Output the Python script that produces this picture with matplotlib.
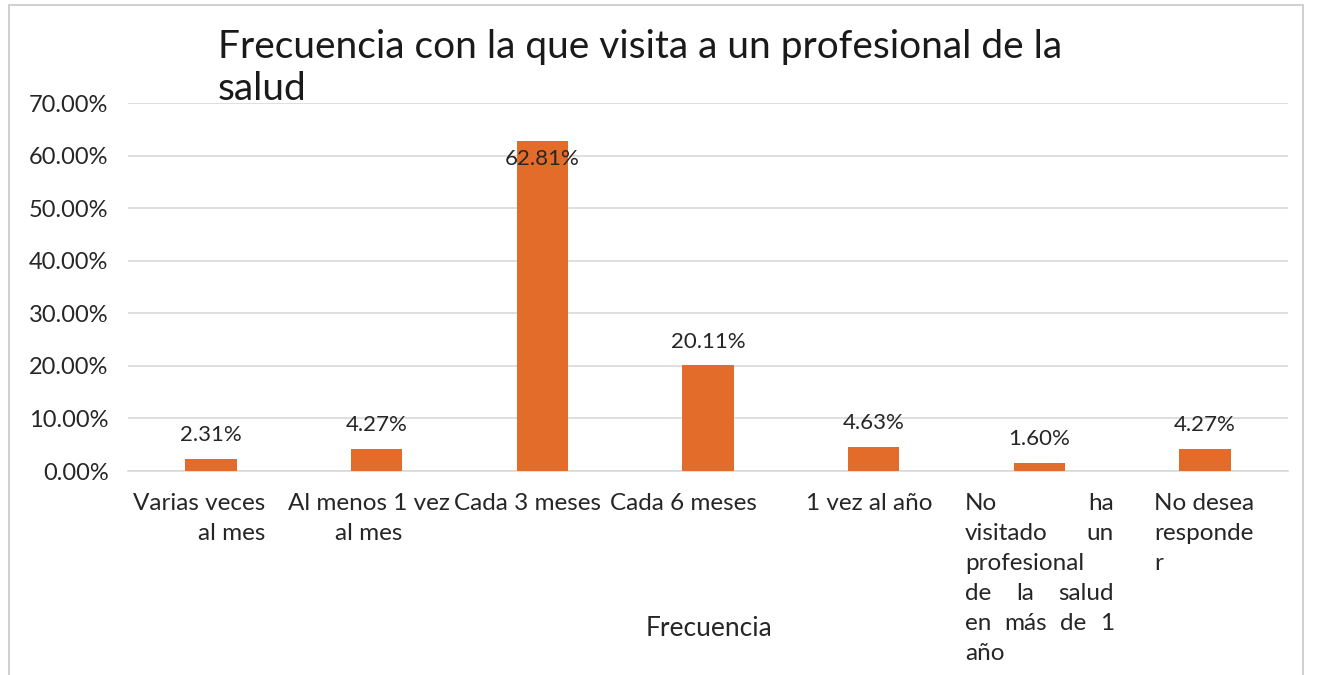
import matplotlib
matplotlib.use("Agg")
import matplotlib.pyplot as plt
from matplotlib.patches import Rectangle
from matplotlib.transforms import ScaledTranslation

categories = [
    ["Varias veces", "al mes"],
    ["Al menos 1 vez", "al mes"],
    ["Cada 3 meses"],
    ["Cada 6 meses"],
    ["1 vez al año"],
    ["No ha", "visitado un", "profesional", "de la salud", "en más de 1", "año"],
    ["No desea", "responde", "r"],
]
values = [2.31, 4.27, 62.81, 20.11, 4.63, 1.60, 4.27]
title = "Frecuencia con la que visita a un profesional de la\nsalud"
xlabel = "Frecuencia"

# styling of the category labels (alignment and horizontal nudge in px)
label_align = ['right', 'center', 'center', 'center', 'center', 'justify', 'left']
label_dx = [-12, -8, -15, -25, -4, 0, -1]
justify_width = 149

plt.rcParams['font.family'] = ['Lato', 'DejaVu Sans']

W, H = 1319, 675
DPI = 100
fig = plt.figure(figsize=(W/DPI, H/DPI), dpi=DPI)
ax = fig.add_axes([128/W, 1-471/H, (1288-128)/W, (471-103)/H])

color = '#E46C2A'
txtc = '#262626'
x = list(range(len(values)))
ax.bar(x, values, width=0.31, color=color, zorder=3)
ax.set_xlim(-0.5, len(values)-0.5)
ax.set_ylim(0, 70)
yt = [0, 10, 20, 30, 40, 50, 60, 70]
ax.set_yticks(yt)
ax.set_yticklabels([f"{v:.2f}%" for v in yt], fontsize=17, color=txtc)
ax.yaxis.grid(True, color='#d9d9d9', linewidth=1.2, zorder=0)
ax.set_axisbelow(True)
for s in ['top', 'right', 'left']:
    ax.spines[s].set_visible(False)
ax.spines['bottom'].set_color('#d9d9d9')
ax.spines['bottom'].set_linewidth(1.2)
ax.tick_params(axis='both', length=0)
ax.tick_params(axis='y', pad=14)
ax.set_xticks(x)
ax.set_xticklabels([])

for xi, v in zip(x, values):
    off = -13 if v > 60 else 17
    ax.annotate(f"{v:.2f}%", (xi, v), xytext=(0, off), textcoords='offset points',
                ha='center', va='center', fontsize=16, color=txtc, zorder=4)

# category labels, line by line
base = ax.get_xaxis_transform()
fs_cat = 17.5
first_dy, line_h = 32, 30
renderer = fig.canvas.get_renderer()
tmp1 = ax.text(0, 0, "a a", fontsize=fs_cat)
tmp2 = ax.text(0, 0, "aa", fontsize=fs_cat)
sp = tmp1.get_window_extent(renderer).width - tmp2.get_window_extent(renderer).width
tmp1.remove()
tmp2.remove()
for i, lines in enumerate(categories):
    texts = []
    for k, line in enumerate(lines):
        words = line.split() if label_align[i] == 'justify' else [line]
        row = []
        for w in words:
            t = ax.text(i, 0, w, ha='left', va='center', fontsize=fs_cat, color=txtc,
                        transform=base, clip_on=False)
            row.append(t)
        texts.append(row)
    widths = [[t.get_window_extent(renderer).width for t in row] for row in texts]
    line_w = [sum(w) + sp*(len(w)-1) for w in widths]
    block_w = justify_width if label_align[i] == 'justify' else max(line_w)
    left = -block_w/2 + label_dx[i]
    for k, row in enumerate(texts):
        dy = -(first_dy + k*line_h)
        ws = widths[k]
        al = label_align[i]
        if al == 'justify' and len(row) > 1 and k < len(texts)-1:
            gap = (block_w - sum(ws)) / (len(row)-1)
        else:
            gap = sp
        if al == 'right':
            cur = left + block_w - line_w[k]
        elif al == 'center':
            cur = left + (block_w - line_w[k]) / 2
        else:
            cur = left
        for t, w in zip(row, ws):
            t.set_transform(base + ScaledTranslation(cur/DPI, dy/DPI, fig.dpi_scale_trans))
            cur += w + gap

fig.text(709/W, 1-628/H, xlabel, fontsize=19, color=txtc, ha='center', va='center')

fig.text(218/W, 1-29/H, title, fontsize=28, color='#1a1a1a', ha='left', va='top',
         linespacing=1.2)

fig.patches.append(Rectangle((9/W, -0.1), (1303-9)/W, 1.1-5/H, transform=fig.transFigure,
                             fill=False, edgecolor='#c8c8c8', linewidth=1.2))

fig.savefig('out.png', dpi=DPI)
